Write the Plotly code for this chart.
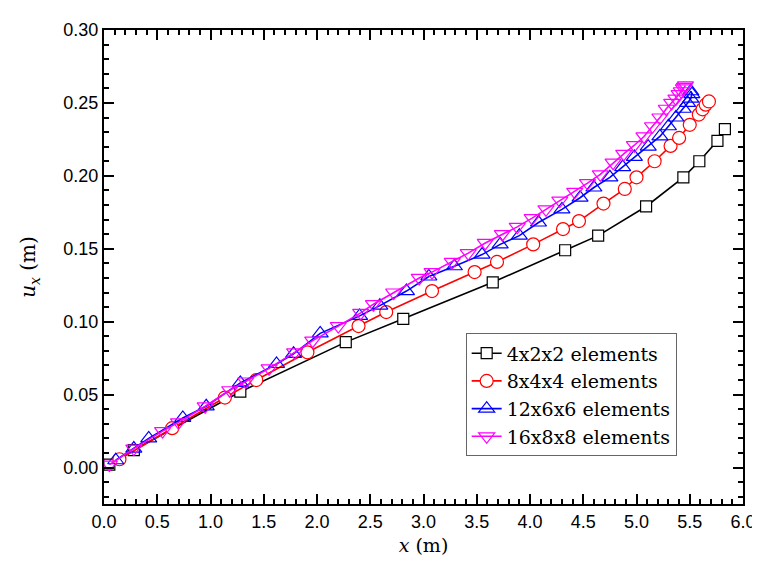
import plotly.graph_objects as go

# 4x2x2 elements
x_4 = [0.05, 0.28, 1.28, 2.27, 2.81, 3.65, 4.33, 4.64, 5.09, 5.44, 5.59, 5.76, 5.83]
y_4 = [0.002, 0.012, 0.052, 0.086, 0.102, 0.127, 0.149, 0.159, 0.179, 0.199, 0.210, 0.224, 0.232]

# 8x4x4 elements
x_8 = [0.145, 0.64, 1.135, 1.43, 1.91, 2.39, 2.65, 3.08, 3.48, 3.69, 4.03, 4.31, 4.46,
       4.69, 4.89, 5.00, 5.17, 5.32, 5.40, 5.50, 5.585, 5.62, 5.65, 5.68]
y_8 = [0.0057, 0.027, 0.048, 0.060, 0.079, 0.097, 0.1066, 0.121, 0.134, 0.141, 0.153, 0.1635, 0.169,
       0.181, 0.191, 0.199, 0.210, 0.2205, 0.226, 0.235, 0.242, 0.2456, 0.2488, 0.251]

# 12x6x6 elements
x_12 = [0.11, 0.28, 0.42, 0.74, 0.96, 1.28, 1.62, 1.78, 2.03, 2.40, 2.59, 2.84, 3.05, 3.29,
        3.55, 3.72, 3.90, 4.08, 4.30, 4.47, 4.60, 4.75, 4.87, 4.98, 5.11, 5.22, 5.30, 5.37,
        5.44, 5.48, 5.51, 5.52, 5.51]
y_12 = [0.005, 0.013, 0.020, 0.034, 0.042, 0.058, 0.071, 0.078, 0.092, 0.104, 0.111, 0.121, 0.131, 0.138,
        0.146, 0.153, 0.159, 0.168, 0.177, 0.185, 0.192, 0.199, 0.206, 0.213, 0.220, 0.227, 0.234, 0.240,
        0.246, 0.250, 0.253, 0.256, 0.258]

# 16x8x8 elements
x_16 = [0.05, 0.28, 0.55, 0.70, 0.95, 1.18, 1.33, 1.55, 1.79, 1.96, 2.20, 2.41, 2.53, 2.72,
        2.96, 3.08, 3.27, 3.42, 3.58, 3.74, 3.88, 4.02, 4.15, 4.28, 4.42, 4.54, 4.66, 4.78,
        4.88, 4.98, 5.07, 5.15, 5.22, 5.28, 5.33, 5.37, 5.40, 5.42, 5.44, 5.45, 5.46]
y_16 = [0.002, 0.013, 0.025, 0.031, 0.042, 0.053, 0.059, 0.068, 0.079, 0.087, 0.097, 0.106, 0.112, 0.120,
        0.130, 0.134, 0.141, 0.147, 0.154, 0.160, 0.165, 0.171, 0.177, 0.183, 0.189, 0.195, 0.201, 0.209,
        0.215, 0.221, 0.227, 0.234, 0.240, 0.246, 0.250, 0.253, 0.256, 0.258, 0.260, 0.261, 0.262]

names = ["4x2x2 elements", "8x4x4 elements", "12x6x6 elements", "16x8x8 elements"]
colors = ["#000000", "#FF0000", "#0000FF", "#FF00FF"]
symbols = ["square", "circle", "triangle-up-open", "triangle-down-open"]
sizes = [11, 13, 14, 14]
fills = ["white", "white", None, None]

xs = [x_4, x_8, x_12, x_16]
ys = [y_4, y_8, y_12, y_16]

SERIF = "DejaVu Serif"
SANS = "Liberation Sans"

fig = go.Figure()
for i in range(4):
    marker = dict(symbol=symbols[i], size=sizes[i],
                  line=dict(color=colors[i], width=1.2))
    marker["color"] = fills[i] if fills[i] else colors[i]
    fig.add_trace(go.Scatter(x=xs[i], y=ys[i], mode="lines+markers", name=names[i],
                             line=dict(color=colors[i], width=1.6), marker=marker))

axis_common = dict(showline=True, linecolor="black", linewidth=2, mirror="ticks",
                   ticks="inside", ticklen=10, tickwidth=2, tickcolor="black",
                   showgrid=False, zeroline=False,
                   tickfont=dict(family=SANS, size=18, color="black"))

fig.update_xaxes(range=[0, 6.0], tickmode="linear", tick0=0, dtick=0.5, tickformat=".1f",
                 minor=dict(ticks="inside", ticklen=5, tickwidth=1.5, tickcolor="black", showgrid=False),
                 title=dict(text="<i>x</i> (m)", font=dict(family=SERIF, size=19, color="black"),
                            standoff=8),
                 **axis_common)
fig.update_yaxes(range=[-0.025, 0.30], tickmode="linear", tick0=0, dtick=0.05, tickformat=".2f",
                 minor=dict(ticks="inside", ticklen=5, tickwidth=1.5, tickcolor="black", showgrid=False),
                 title=dict(text="<i>u</i><sub><i>x</i></sub> (m)", font=dict(family=SERIF, size=20, color="black"),
                            standoff=22),
                 **axis_common)

fig.update_layout(
    width=760, height=567,
    margin=dict(l=96, r=14, t=19, b=71),
    plot_bgcolor="white", paper_bgcolor="white",
    legend=dict(x=0.566, y=0.36, xanchor="left", yanchor="top",
                bordercolor="#666666", borderwidth=1, bgcolor="white",
                font=dict(family=SERIF, size=19, color="black"),
                tracegroupgap=0),
    showlegend=True,
)

fig.write_html("out.html")
